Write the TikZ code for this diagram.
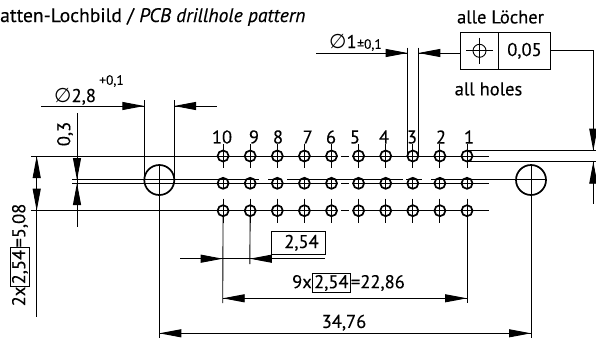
\documentclass[tikz,border=0pt]{standalone}
\usepackage{fontspec}
\setmainfont[FakeBold=0.25]{PT Sans}
\newfontfamily\symfont{DejaVu Sans}
\usetikzlibrary{arrows.meta}
\newcommand{\dia}{{\symfont\fontsize{20}{20}\selectfont ∅}}
\newcommand{\basic}[1]{{\setlength{\fboxsep}{1.5pt}\setlength{\fboxrule}{0.9pt}\fbox{#1}}}
\tikzset{
	thinline/.style={line width=0.9pt},
	dimline/.style={line width=0.9pt, arrows={-Triangle[length=22pt,width=8pt]}},
	hole/.style={circle, draw, line width=1.7pt, minimum size=11pt, inner sep=0pt},
	bighole/.style={circle, draw, line width=1.7pt, minimum size=30pt, inner sep=0pt},
	dimtext/.style={inner sep=0pt, font=\fontsize{18.5}{19}\selectfont},
	smalltext/.style={inner sep=0pt, font=\fontsize{13.5}{14}\selectfont},
}
\begin{document}
\begin{tikzpicture}[x=1pt, y=-1pt]
	\useasboundingbox (0,0) rectangle (596,343);
	% title
	\node[inner sep=0pt, font=\fontsize{19.6}{20}\selectfont, anchor=west] (title) at (0,17) {atten-Lochbild / \textit{PCB drillhole pattern}};
	% hole pattern
	\foreach \n in {1, ..., 10} {
		\pgfmathsetmacro{\hx}{467-(\n-1)*27.1}
		\node[hole] (a\n) at (\hx,156) {};
		\node[hole] (b\n) at (\hx,183.3) {};
		\node[hole] (c\n) at (\hx,210.7) {};
		\draw[thinline] (\hx,144) -- (\hx,168);
		\draw[thinline] (\hx,177.5) -- (\hx,189);
		\draw[thinline] (\hx,198.7) -- (\hx,222.7);
	}
	\foreach \n/\lx in {10/222, 9/254, 8/278, 7/307.7, 6/331, 5/355, 4/384, 3/412, 2/441, 1/469}
		\node[dimtext] (num\n) at (\lx,137) {\n};
	\node[bighole] (left) at (159.3,180) {};
	\node[bighole] (right) at (531,180) {};
	% centre lines
	\foreach \y in {156, 210.7}
		\draw[thinline] (31,\y) -- (338,\y) (341,\y) -- (349,\y) (352,\y) -- (489,\y);
	\draw[thinline] (72,183.3) -- (338,183.3) (341,183.3) -- (349,183.3) (352,183.3) -- (489,183.3);
	\draw[thinline] (72,179.5) -- (259,179.5) (268,179.5) -- (282,179.5) (287,179.5) -- (402.7,179.5)
		(406,179.5) -- (421.7,179.5) (431,179.5) -- (546,179.5);
	\draw[thinline] (467,150.7) -- (596,150.7) (467,161.7) -- (596,161.7);
	% outer extension lines
	\draw[thinline] (left.north) -- (159.3,338);
	\draw[thinline] (right.north) -- (531,338);
	\draw[thinline] (144.3,100) -- (144.3,180) (174,100) -- (174,180);
	\draw[thinline] (407.7,47.7) -- (407.7,156) (418.3,47.7) -- (418.3,156);
	\draw[thinline] (c10) -- (222.7,303);
	\draw[thinline] (c9) -- (249.8,264);
	\draw[thinline] (c1) -- (467,303);
	% drill 2,8
	\coordinate (t28) at (144.3,106);
	\coordinate (u28) at (174,106);
	\draw[thinline] (41,106) -- (t28) (u28) -- (217,106);
	\draw[dimline] (122,106) -- (t28);
	\draw[dimline] (196,106) -- (u28);
	\node[dimtext, anchor=base west] (d28) at (54,102) {\dia 2,8};
	\node[smalltext] (tol28) at (111.5,81) {+0,1};
	% offset 0,3
	\draw[thinline] (77,113) -- (77,226.7);
	\draw[dimline] (77,158) -- (77,180);
	\draw[dimline] (77,205) -- (77,183);
	\node[dimtext, rotate=90] (off) at (65,134) {0,3};
	% row pitch
	\draw[thinline] (36.7,156) -- (36.7,316.7);
	\draw[dimline] (36.7,178) -- (36.7,156);
	\draw[dimline] (36.7,188.7) -- (36.7,210.7);
	\node[dimtext, rotate=90] (rowdim) at (20,255) {2x\basic{2,54}=5,08};
	% pitch 2,54
	\node[draw, thinline, minimum width=53.5pt, minimum height=22.3pt, inner sep=0pt] (pitch) at (298.2,242.8) {};
	\node[dimtext] (pitchtext) at (301.5,242.8) {2,54};
	\draw[thinline] (180,258.7) -- (325,258.7);
	\draw[dimline] (201,258.7) -- (222.7,258.7);
	\draw[dimline] (271.5,258.7) -- (249.8,258.7);
	% 9 x pitch
	\draw[thinline] (222.7,298.3) -- (467,298.3);
	\draw[dimline] (245,298.3) -- (222.7,298.3);
	\draw[dimline] (445,298.3) -- (467,298.3);
	\node[dimtext] (ninedim) at (348.5,283) {9x\basic{2,54}=22,86};
	% outer 34,76
	\draw[thinline] (159.3,333.3) -- (531,333.3);
	\draw[dimline] (181,333.3) -- (159.3,333.3);
	\draw[dimline] (509,333.3) -- (531,333.3);
	\node[dimtext] (outer) at (344,322.7) {34,76};
	% drill 1
	\draw[thinline] (316,53) -- (407.7,53) (418.3,53) -- (460.3,53);
	\draw[dimline] (386,53) -- (407.7,53);
	\draw[dimline] (440,53) -- (418.3,53);
	\node[dimtext, anchor=base west] (d1) at (329,48) {\dia 1};
	\node[smalltext] (tol1) at (369.5,45) {±0,1};
	% position tolerance
	\node[draw, thinline, minimum width=38.4pt, minimum height=37pt, inner sep=0pt] (symbox) at (479.5,50.8) {};
	\node[draw, thinline, minimum width=51.6pt, minimum height=37pt, dimtext] (tolbox) at (524.5,50.8) {0,05};
	\node[circle, draw, thinline, minimum size=13pt, inner sep=0pt] (pos) at (symbox.center) {};
	\draw[thinline] (466,50.8) -- (493,50.8) (479.5,37.5) -- (479.5,64);
	\node[dimtext] (alle) at (500.5,17) {alle Löcher};
	\node[dimtext] (allh) at (488.5,89) {all holes};
	\coordinate (corner) at (593.3,50.8);
	\coordinate (tip) at (593.3,150.7);
	\draw[thinline] (tolbox.east) -- (corner) -- (tip);
	\draw[dimline] (593.3,128.7) -- (tip);
	\draw[thinline] (593.3,161.7) -- (593.3,203.5);
	\draw[dimline] (593.3,183.7) -- (593.3,161.7);
\end{tikzpicture}
\end{document}
